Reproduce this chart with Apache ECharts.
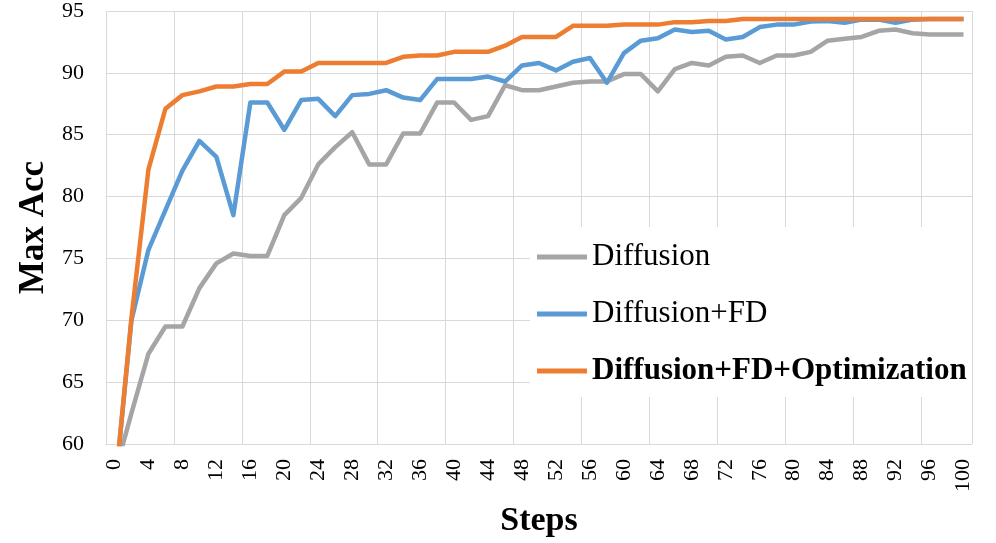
<!DOCTYPE html>
<html>
<head>
<meta charset="utf-8">
<script src="https://cdn.jsdelivr.net/npm/echarts@6/dist/echarts.min.js"></script>
<style>
html,body{margin:0;padding:0;background:#fff;}
#chart{width:996px;height:543px;}
</style>
</head>
<body>
<div id="chart"></div>
<script>
// Steps 0..100 every 2
const steps = ['0','2','4','6','8','10','12','14','16','18','20','22','24','26','28','30','32','34','36','38','40','42','44','46','48','50','52','54','56','58','60','62','64','66','68','70','72','74','76','78','80','82','84','86','88','90','92','94','96','98','100'];

const diffusion = [57.5,62.5,67.3,69.5,69.5,72.6,74.6,75.4,75.2,75.2,78.5,79.9,82.6,84.0,85.2,82.6,82.6,85.1,85.1,87.6,87.6,86.2,86.5,89.0,88.6,88.6,88.9,89.2,89.3,89.3,89.9,89.9,88.5,90.3,90.8,90.6,91.3,91.4,90.8,91.4,91.4,91.7,92.6,92.75,92.9,93.4,93.5,93.2,93.1,93.1,93.1];

const diffusionFD = [56.0,70.0,75.7,78.9,82.1,84.5,83.2,78.5,87.6,87.6,85.4,87.8,87.9,86.5,88.2,88.3,88.6,88.0,87.8,89.5,89.5,89.5,89.7,89.3,90.6,90.8,90.2,90.9,91.2,89.2,91.6,92.6,92.8,93.5,93.3,93.4,92.7,92.9,93.7,93.9,93.9,94.15,94.2,94.05,94.3,94.3,94.05,94.3,94.35,94.35,94.35];

const diffusionFDOpt = [56.0,70.2,82.2,87.1,88.2,88.5,88.9,88.9,89.1,89.1,90.1,90.1,90.8,90.8,90.8,90.8,90.8,91.3,91.4,91.4,91.7,91.7,91.7,92.2,92.9,92.9,92.9,93.8,93.8,93.8,93.9,93.9,93.9,94.1,94.1,94.2,94.2,94.35,94.35,94.35,94.35,94.35,94.35,94.35,94.35,94.35,94.35,94.35,94.35,94.35,94.35];

const seriesNames = ['Diffusion','Diffusion+FD','Diffusion+FD+Optimization'];
const seriesColors = ['#A5A5A5','#5B9BD5','#ED7D31'];
const seriesData = [diffusion, diffusionFD, diffusionFDOpt];

const font = '"Liberation Serif","Times New Roman",serif';
const chart = echarts.init(document.getElementById('chart'));
chart.setOption({
  animation:false,
  backgroundColor:'#fff',
  grid:{left:106,right:24,top:9,bottom:98},
  legend:{
    orient:'vertical',
    left:530, top:227,
    padding:[12,5,8,7],
    backgroundColor:'#fff',
    itemWidth:50, itemHeight:5,
    itemGap:21,
    icon:'rect',
    data:seriesNames,
    formatter:function(n){ return n===seriesNames[2] ? '{b|'+n+'}' : n; },
    textStyle:{fontFamily:font,fontSize:31,color:'#000',lineHeight:36,
      rich:{b:{fontFamily:font,fontSize:31,fontWeight:'bold',color:'#000',lineHeight:36}}}
  },
  xAxis:{
    type:'category',
    data:steps,
    boundaryGap:true,
    name:'Steps',
    nameLocation:'middle',
    nameGap:60,
    nameTextStyle:{fontFamily:font,fontSize:34,fontWeight:'bold',color:'#000'},
    axisLine:{show:true,lineStyle:{color:'#D9D9D9',width:1}},
    axisTick:{show:false},
    axisLabel:{interval:1,rotate:90,fontFamily:font,fontSize:22,color:'#000',margin:15},
    splitLine:{show:true,interval:3,lineStyle:{color:'#D9D9D9',width:1}}
  },
  yAxis:{
    type:'value',
    min:60,max:95,interval:5,
    name:'Max Acc',
    nameLocation:'middle',
    nameRotate:90,
    nameGap:52,
    nameTextStyle:{fontFamily:font,fontSize:35,fontWeight:'bold',color:'#000'},
    axisLine:{show:false},
    axisTick:{show:false},
    axisLabel:{fontFamily:font,fontSize:22,color:'#000',margin:22},
    splitLine:{show:true,lineStyle:{color:'#D9D9D9',width:1}}
  },
  series:seriesNames.map(function(n,i){
    return {
      name:n,type:'line',data:seriesData[i],
      symbol:'none',clip:true,
      color:seriesColors[i],
      lineStyle:{color:seriesColors[i],width:4.5,join:'round'},
      z:2+i
    };
  })
});
</script>
</body>
</html>
